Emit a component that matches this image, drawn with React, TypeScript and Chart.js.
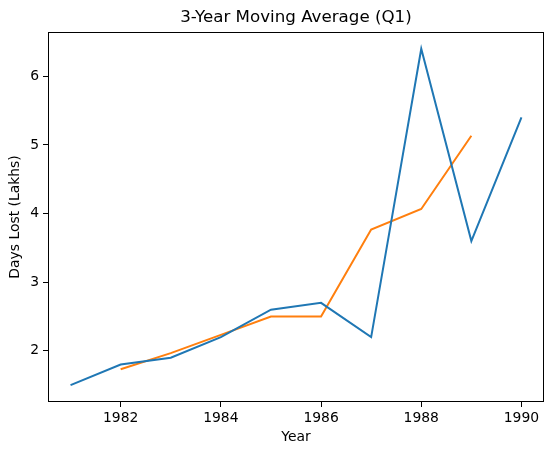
import React, { useEffect, useRef } from "react";
import { Chart, registerables } from "chart.js";

Chart.register(...registerables);

const years = [1981, 1982, 1983, 1984, 1985, 1986, 1987, 1988, 1989, 1990];
const daysLost = [1.5, 1.8, 1.9, 2.2, 2.6, 2.7, 2.2, 6.4, 3.6, 5.4];
const maYears = [1982, 1983, 1984, 1985, 1986, 1987, 1988, 1989];
const movingAvg = [1.733, 1.967, 2.233, 2.5, 2.5, 3.767, 4.067, 5.133];
const xTicks = [1982, 1984, 1986, 1988, 1990];
const yTicks = [2, 3, 4, 5, 6];
const titleText = "3-Year Moving Average (Q1)";
const xLabel = "Year";
const yLabel = "Days Lost (Lakhs)";

const FONT = "'DejaVu Sans', sans-serif";

export default function App() {
  const ref = useRef<HTMLCanvasElement | null>(null);

  useEffect(() => {
    document.body.style.margin = "0";
    const canvas = ref.current;
    if (!canvas) return;

    const framePlugin = {
      id: "frame",
      afterDraw(chart: any) {
        const { ctx, chartArea } = chart;
        ctx.save();
        ctx.strokeStyle = "#000";
        ctx.lineWidth = 1;
        const l = Math.round(chartArea.left) + 0.5;
        const t = Math.round(chartArea.top) + 0.5;
        const r = Math.round(chartArea.right) - 0.5;
        const b = Math.round(chartArea.bottom) - 0.5;
        ctx.strokeRect(l, t, r - l, b - t);
        ctx.fillStyle = "#000";
        ctx.font = `16.7px ${FONT}`;
        ctx.textAlign = "center";
        ctx.textBaseline = "middle";
        ctx.fillText(titleText, (chartArea.left + chartArea.right) / 2, 18);
        ctx.restore();
      },
    };

    const tickFont = { family: FONT, size: 13.9 };

    const chart = new Chart(canvas, {
      type: "line",
      data: {
        datasets: [
          {
            data: years.map((x, i) => ({ x, y: daysLost[i] })),
            borderColor: "#1f77b4",
            backgroundColor: "#1f77b4",
            borderWidth: 2,
            pointRadius: 0,
            tension: 0,
            fill: false,
          },
          {
            data: maYears.map((x, i) => ({ x, y: movingAvg[i] })),
            borderColor: "#ff7f0e",
            backgroundColor: "#ff7f0e",
            borderWidth: 2,
            pointRadius: 0,
            tension: 0,
            fill: false,
          },
        ],
      },
      options: {
        animation: false,
        responsive: false,
        maintainAspectRatio: false,
        layout: { padding: { top: 32, right: 10, bottom: 0, left: 0 } },
        plugins: {
          legend: { display: false },
          tooltip: { enabled: false },
          title: { display: false },
        },
        scales: {
          x: {
            type: "linear",
            min: 1980.55,
            max: 1990.45,
            afterBuildTicks: (s: any) => {
              s.ticks = xTicks.map((v) => ({ value: v }));
            },
            afterFit: (s: any) => {
              s.height = 53;
            },
            ticks: {
              color: "#000",
              font: tickFont,
              maxRotation: 0,
              autoSkip: false,
              padding: 3,
              callback: (v: any) => String(v),
            },
            grid: {
              drawOnChartArea: false,
              drawTicks: true,
              tickLength: 5,
              color: "#000",
            },
            border: { display: false },
            title: {
              display: true,
              text: xLabel,
              color: "#000",
              font: tickFont,
              padding: { top: 0, bottom: 9 },
            },
          },
          y: {
            type: "linear",
            min: 1.255,
            max: 6.645,
            afterBuildTicks: (s: any) => {
              s.ticks = yTicks.map((v) => ({ value: v }));
            },
            afterFit: (s: any) => {
              s.width = 48;
            },
            ticks: {
              color: "#000",
              font: tickFont,
              padding: 4,
              callback: (v: any) => String(v),
            },
            grid: {
              drawOnChartArea: false,
              drawTicks: true,
              tickLength: 5,
              color: "#000",
            },
            border: { display: false },
            title: {
              display: true,
              text: yLabel,
              color: "#000",
              font: tickFont,
              padding: { top: 7, bottom: 0 },
            },
          },
        },
      },
      plugins: [framePlugin],
    });

    return () => chart.destroy();
  }, []);

  return (
    <div style={{ width: 554, height: 455 }}>
      <canvas ref={ref} width={554} height={455} style={{ display: "block", width: 554, height: 455 }} />
    </div>
  );
}
